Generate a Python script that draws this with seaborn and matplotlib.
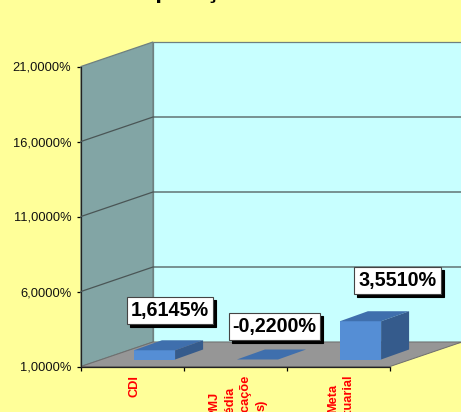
import numpy as np
import pandas as pd
import matplotlib
matplotlib.use("Agg")
import matplotlib.pyplot as plt
from matplotlib.patches import Polygon
import seaborn as sns

# values
categories = ["CDI", "PMJ\nMédia\nAplicaçõe\ns)", "Meta\nAtuarial"]
returns = [1.6145, -0.2200, 3.5510]
bar_labels = ["1,6145%", "-0,2200%", "3,5510%"]
y_ticks = [1, 6, 11, 16, 21]
y_tick_labels = ["1,0000%", "6,0000%", "11,0000%", "16,0000%", "21,0000%"]
title = "Comparação"

W, H = 461, 412
BG = "#FFFF99"
sns.set_theme(style="white")
plt.rcParams["font.family"] = ["Liberation Sans", "DejaVu Sans"]

fig = plt.figure(figsize=(W / 100, H / 100), dpi=100, facecolor=BG)


def add_axes_px(left, top, right, bottom):
    return fig.add_axes([left / W, 1 - bottom / H, (right - left) / W, (bottom - top) / H])


# main axes = front plane of the 3d box
ax = add_axes_px(81, 66.5, 390, 366.5)
ax.set_facecolor("none")
ax.set_xlim(-0.5, 2.5)
ax.set_ylim(y_ticks[0], y_ticks[-1])
px_x = 309 / 3
px_y = 300 / 20
dx, dy = 72 / px_x, 24.5 / px_y  # depth of the box

x0, x1, y0, y1 = -0.5, 2.5, y_ticks[0], y_ticks[-1]
ax.add_patch(Polygon([(x0 + dx, y0 + dy), (x1 + dx, y0 + dy), (x1 + dx, y1 + dy), (x0 + dx, y1 + dy)],
                     fc="#C8FFFF", ec="#6E8080", lw=0.9, clip_on=False, zorder=1))
ax.add_patch(Polygon([(x0, y0), (x0 + dx, y0 + dy), (x0 + dx, y1 + dy), (x0, y1)],
                     fc="#82A5A5", ec="#6E8080", lw=0.9, clip_on=False, zorder=2))
ax.add_patch(Polygon([(x0, y0), (x1, y0), (x1 + dx, y0 + dy), (x0 + dx, y0 + dy)],
                     fc="#969696", ec="#6E6E6E", lw=0.7, clip_on=False, zorder=2))
for t in y_ticks[1:-1]:
    ax.plot([x0, x0 + dx, x1 + dx], [t, t + dy, t + dy], color="#4A5555", lw=0.9, clip_on=False, zorder=3)

ax.set_yticks(y_ticks)
ax.set_yticklabels(y_tick_labels, fontsize=9.3, color="#111111")
ax.set_xticks([-0.5, 0.5, 1.5, 2.5])
ax.set_xticklabels([])
ax.tick_params(axis="both", length=3, width=0.9, color="black", pad=4, bottom=True, left=True)
for side in ["top", "right"]:
    ax.spines[side].set_visible(False)
for side in ["left", "bottom"]:
    ax.spines[side].set_color("#222222")
    ax.spines[side].set_linewidth(0.9)

# category labels, clipped by the bottom of the figure like the original
for i, cat in enumerate(categories):
    ax.annotate(cat, (i, y0), xytext=(2.5 * 0.72, -8.5 * 0.72), xycoords="data", textcoords="offset points",
                rotation=90, ha="center", va="top", multialignment="center",
                fontsize=9.2, fontweight="bold", color="#FF0000", linespacing=1.4,
                annotation_clip=False)

# bars sit in their own axes, shifted into the box depth
ax_bars = add_axes_px(81 + 22, 66.5 - 7, 390 + 22, 366.5 - 7)
ax_bars.set_facecolor("none")
df = pd.DataFrame({"cat": categories, "height": np.clip(returns, y0, None) - y0})
sns.barplot(data=df, x="cat", y="height", ax=ax_bars, color="#558ED5", saturation=1, width=0.4, linewidth=0, zorder=5)
ax_bars.set_xlim(-0.5, 2.5)
ax_bars.set_ylim(0, y1 - y0)
ax_bars.axis("off")

bar_dx, bar_dy = 28 / px_x, 10 / px_y
for p in ax_bars.patches:
    l, r = p.get_x(), p.get_x() + p.get_width()
    h = p.get_height()
    ax_bars.add_patch(Polygon([(l, h), (r, h), (r + bar_dx, h + bar_dy), (l + bar_dx, h + bar_dy)],
                              fc="#3F6FAD", ec="none", clip_on=False, zorder=6))
    ax_bars.add_patch(Polygon([(r, 0), (r + bar_dx, bar_dy), (r + bar_dx, h + bar_dy), (r, h)],
                              fc="#355B8C", ec="none", clip_on=False, zorder=6))

# value labels: black shadow box behind a white box
label_off = [(15.5, 40), (17, 33), (37, 41)]
for p, txt, (ox, oy) in zip(ax_bars.patches, bar_labels, label_off):
    xy = (p.get_x() + p.get_width() / 2, p.get_height())
    for shift, fc, ec, z in [(3, "black", "black", 7), (0, "white", "#444444", 8)]:
        ax_bars.annotate(txt, xy, xytext=((ox + shift) * 0.72, (oy - shift) * 0.72), textcoords="offset points",
                         ha="center", va="center", fontsize=14.2, fontweight="bold", color="black",
                         bbox=dict(boxstyle="square,pad=0.2", fc=fc, ec=ec, lw=0.8), zorder=z,
                         annotation_clip=False)

# title is mostly cut off at the top edge, only the descenders show
fig.text(175 / W, 1 + 2 / H, title, ha="center", va="baseline", fontsize=17.3, fontweight="bold", color="black")

fig.savefig("out.png", dpi=100, facecolor=BG)
